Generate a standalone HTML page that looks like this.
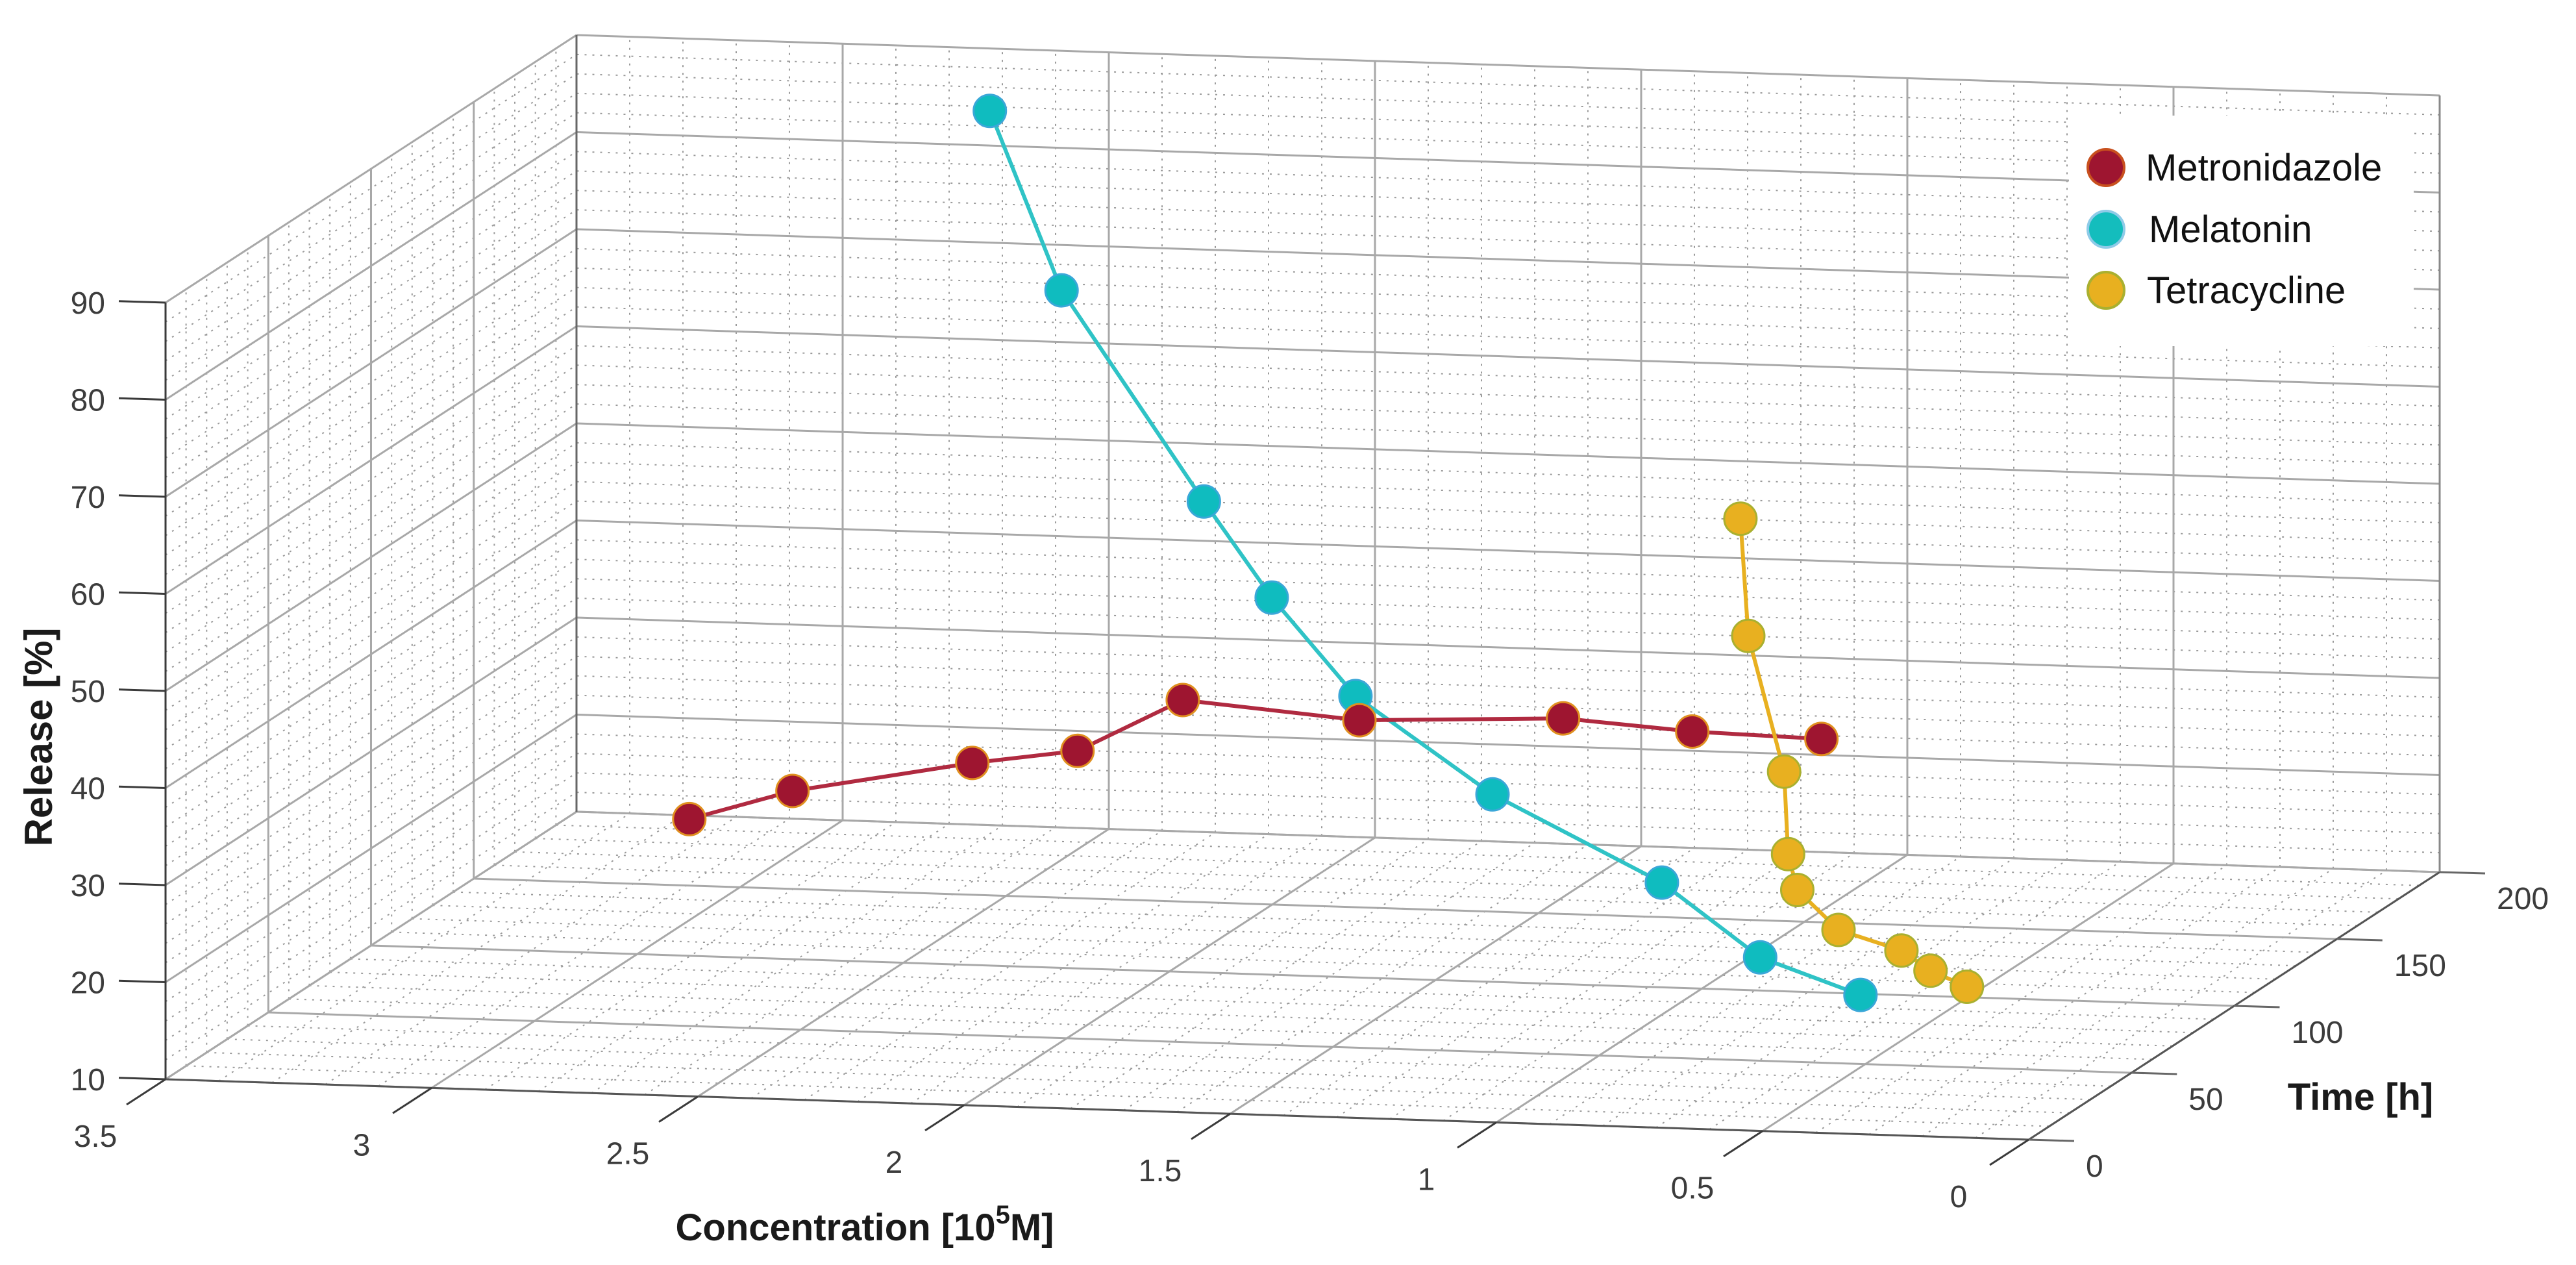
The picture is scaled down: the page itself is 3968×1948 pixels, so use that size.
<!DOCTYPE html>
<html><head><meta charset="utf-8">
<style>
html,body{margin:0;padding:0;background:#fff;}
svg{display:block;}
text{font-family:"Liberation Sans",Arial,sans-serif;}
</style></head>
<body>
<svg id="chart" xmlns="http://www.w3.org/2000/svg" width="3968" height="1948" viewBox="0 0 3968 1948">
<rect x="0" y="0" width="3968" height="1948" fill="#ffffff"/>
<g id="grid"></g>
<g id="axes"></g>
<g id="series"></g>
<text x="80" y="1135" transform="rotate(-90 80 1135)" text-anchor="middle" font-size="60" font-weight="bold" fill="#1a1a1a">Release [%]</text>
<text x="1332" y="1910" text-anchor="middle" font-size="58" font-weight="bold" fill="#1a1a1a">Concentration [10<tspan dy="-26" font-size="40">5</tspan><tspan dy="26">M]</tspan></text>
<text x="3636" y="1709" text-anchor="middle" font-size="58" font-weight="bold" fill="#1a1a1a">Time [h]</text>
<g id="legend">
  <rect x="3187" y="178" width="531" height="355" fill="#ffffff"/>
  <g>
    <ellipse cx="3244" cy="258" rx="28" ry="28" fill="#9e1530" stroke="#c8501e" stroke-width="4"/>
    <text x="3305" y="278" font-size="58" fill="#111">Metronidazole</text>
  </g>
  <g>
    <ellipse cx="3244" cy="353" rx="28" ry="28" fill="#14bdbd" stroke="#8fcbe8" stroke-width="4"/>
    <text x="3310" y="373" font-size="58" fill="#111">Melatonin</text>
  </g>
  <g>
    <ellipse cx="3244" cy="447" rx="28" ry="28" fill="#e8b020" stroke="#a9b030" stroke-width="4"/>
    <text x="3307" y="467" font-size="58" fill="#111">Tetracycline</text>
  </g>
</g>
</svg>
<script>
// ---- chart data ----
const concTicks = [3.5, 3, 2.5, 2, 1.5, 1, 0.5, 0];
const concTickLabels = ["3.5", "3", "2.5", "2", "1.5", "1", "0.5", "0"];
const timeTicks = [0, 50, 100, 150, 200];
const timeTickLabels = ["0", "50", "100", "150", "200"];
const relTicks = [10, 20, 30, 40, 50, 60, 70, 80, 90];
const relTickLabels = ["10", "20", "30", "40", "50", "60", "70", "80", "90"];

const metroConc = [2.52, 2.33, 2.00, 1.81, 1.62, 1.35, 1.06, 0.91, 0.76];
const metroTime = [1, 2, 4, 6, 8, 24, 48, 72, 96];
const metroRel = [38.4, 41.5, 44.7, 46.0, 51.3, 47.5, 44.9, 40.5, 36.7];

const melaConc = [2.60, 2.28, 1.92, 1.70, 1.45, 1.10, 0.72, 0.52, 0.32];
const melaTime = [168, 120, 96, 72, 48, 24, 8, 4, 1];
const melaRel = [88.2, 76.9, 59.1, 52.9, 46.5, 40.3, 34.1, 27.3, 24.2];

const tetraConc = [1.19, 0.99, 0.83, 0.73, 0.62, 0.45, 0.27, 0.20, 0.12];
const tetraTime = [168, 120, 96, 72, 48, 24, 8, 4, 1];
const tetraRel = [48.7, 43.6, 33.2, 28.2, 28.0, 27.5, 27.9, 26.5, 25.4];

// ---- projection ----
const NS = "http://www.w3.org/2000/svg";
const O = [255, 1662];            // c=3.5, t=0, r=10
const CV = [2870, 93];            // c 3.5 -> 0
const TV = [633, -412];           // t 0 -> 200
const RV = [0, -1196];            // r 10 -> 90
const cMax = 3.5, tMax = 200, rMin = 10, rMax = 90;
function P(c, t, r) {
  const u = (cMax - c) / cMax, v = t / tMax, w = (r - rMin) / (rMax - rMin);
  return [O[0] + u * CV[0] + v * TV[0] + w * RV[0], O[1] + u * CV[1] + v * TV[1] + w * RV[1]];
}
function line(g, a, b, stroke, sw, dash) {
  const l = document.createElementNS(NS, "line");
  l.setAttribute("x1", a[0].toFixed(1)); l.setAttribute("y1", a[1].toFixed(1));
  l.setAttribute("x2", b[0].toFixed(1)); l.setAttribute("y2", b[1].toFixed(1));
  l.setAttribute("stroke", stroke); l.setAttribute("stroke-width", sw);
  if (dash) l.setAttribute("stroke-dasharray", dash);
  g.appendChild(l);
  return l;
}
const grid = document.getElementById("grid");
const axes = document.getElementById("axes");
const minorC = "#9a9a9a", majorC = "#a8a8a8";
const dash = "3,9";
// minor grid
for (let i = 0; i <= 35; i++) {
  const c = i * 0.1; if (i % 5 === 0) continue;
  line(grid, P(c, 200, 10), P(c, 200, 90), minorC, 2, dash);
  line(grid, P(c, 0, 10), P(c, 200, 10), minorC, 2, dash);
}
for (let r = 10; r <= 90; r += 2) {
  if ((r - 10) % 10 === 0) continue;
  line(grid, P(0, 200, r), P(3.5, 200, r), minorC, 2, dash);
  line(grid, P(3.5, 0, r), P(3.5, 200, r), minorC, 2, dash);
}
for (let t = 0; t <= 200; t += 10) {
  if (t % 50 === 0) continue;
  line(grid, P(3.5, t, 10), P(3.5, t, 90), minorC, 2, dash);
  line(grid, P(3.5, t, 10), P(0, t, 10), minorC, 2, dash);
}
// major grid
concTicks.forEach(c => {
  line(grid, P(c, 200, 10), P(c, 200, 90), majorC, 3);
  line(grid, P(c, 0, 10), P(c, 200, 10), majorC, 3);
});
relTicks.forEach(r => {
  line(grid, P(0, 200, r), P(3.5, 200, r), majorC, 3);
  line(grid, P(3.5, 0, r), P(3.5, 200, r), majorC, 3);
});
timeTicks.forEach(t => {
  line(grid, P(3.5, t, 10), P(3.5, t, 90), majorC, 3);
  line(grid, P(3.5, t, 10), P(0, t, 10), majorC, 3);
});
// box edges / axes
const axC = "#3a3a3a";
line(axes, P(3.5, 0, 10), P(3.5, 0, 90), axC, 3);
line(axes, P(3.5, 0, 10), P(0, 0, 10), "#555", 3);
line(axes, P(0, 0, 10), P(0, 200, 10), "#555", 3);
line(axes, P(3.5, 200, 10), P(3.5, 200, 90), "#666", 3);
line(axes, P(0, 200, 10), P(0, 200, 90), "#888", 3);
function txt(x, y, s, anchor, name) {
  const e = document.createElementNS(NS, "text");
  e.setAttribute("x", x.toFixed(1)); e.setAttribute("y", y.toFixed(1));
  e.setAttribute("text-anchor", anchor); e.setAttribute("font-size", "48"); e.setAttribute("fill", "#3c3c3c");
  e.textContent = s;
  
  
  axes.appendChild(e);
}
// z ticks
relTicks.forEach((r, i) => {
  const p = P(3.5, 0, r);
  line(axes, p, [p[0] - 72, p[1] - 2.3], axC, 3);
  txt(p[0] - 93, p[1] + 17, relTickLabels[i], "end", "z-tick-label");
});
// conc ticks
concTicks.forEach((c, i) => {
  const p = P(c, 0, 10);
  line(axes, p, [p[0] - 60, p[1] + 39], axC, 3);
  txt(p[0] - 108, p[1] + 104, concTickLabels[i], "middle", "x-tick-label");
});
// time ticks
timeTicks.forEach((t, i) => {
  const p = P(0, t, 10);
  line(axes, p, [p[0] + 70, p[1] + 2], "#666", 3);
  txt(p[0] + 88, p[1] + 57, timeTickLabels[i], "start", "y-tick-label");
});
// series
const seriesG = document.getElementById("series");
function drawSeries(cs, ts, rs, fill, edge, lineCol, name) {
  const g = document.createElementNS(NS, "g");
  
  
  seriesG.appendChild(g);
  const pts = cs.map((c, i) => P(c, ts[i], rs[i]));
  const pl = document.createElementNS(NS, "polyline");
  pl.setAttribute("points", pts.map(p => p[0].toFixed(1) + "," + p[1].toFixed(1)).join(" "));
  pl.setAttribute("fill", "none"); pl.setAttribute("stroke", lineCol); pl.setAttribute("stroke-width", "6");
  
  
  g.appendChild(pl);
  pts.forEach(p => {
    const m = document.createElementNS(NS, "circle");
    m.setAttribute("cx", p[0].toFixed(1)); m.setAttribute("cy", p[1].toFixed(1)); m.setAttribute("r", "25");
    m.setAttribute("fill", fill); m.setAttribute("stroke", edge); m.setAttribute("stroke-width", "3");
    
    
    g.appendChild(m);
  });
}
drawSeries(melaConc, melaTime, melaRel, "#0fbcbf", "#3aa7d8", "#2fc3c6", "melatonin");
drawSeries(metroConc, metroTime, metroRel, "#9e1530", "#e09020", "#b02a40", "metronidazole");
drawSeries(tetraConc, tetraTime, tetraRel, "#e8b020", "#a9b030", "#e8b020", "tetracycline");
</script>
</body></html>
